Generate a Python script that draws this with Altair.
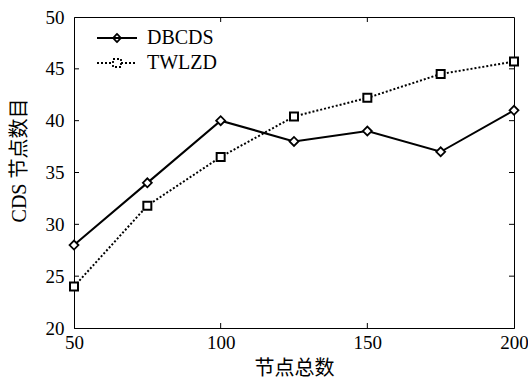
import altair as alt
import pandas as pd

nodes = [50, 75, 100, 125, 150, 175, 200]
dbcds = [28, 34, 40, 38, 39, 37, 41]
twlzd = [24, 31.8, 36.5, 40.4, 42.2, 44.5, 45.7]
series_names = ["DBCDS", "TWLZD"]
x_ticks = [50, 100, 150, 200]
y_ticks = [20, 25, 30, 35, 40, 45, 50]

df = pd.DataFrame({
    "n": nodes * 2,
    "v": dbcds + twlzd,
    "s": [series_names[0]] * len(nodes) + [series_names[1]] * len(nodes),
})

W, H = 440, 311
XD = [50, 200]
YD = [20, 50]
TICK_PX = 5
FONT = "Liberation Serif, Times New Roman, Noto Sans CJK SC, serif"

xs = alt.Scale(domain=XD, nice=False, zero=False)
ys = alt.Scale(domain=YD, nice=False, zero=False)

x_axis = alt.Axis(values=x_ticks, tickSize=0, grid=False, labelFontSize=19,
                  labelPadding=5, labelFont=FONT, labelColor="black",
                  title="节点总数", titleFont=FONT, titleFontSize=20,
                  titleFontWeight="normal", titleColor="black", titlePadding=6,
                  domainColor="black", labelFlush=False)
y_axis = alt.Axis(values=y_ticks, tickSize=0, grid=False, labelFontSize=19,
                  labelPadding=10, labelFont=FONT, labelColor="black",
                  title="CDS 节点数目", titleFont=FONT, titleFontSize=20,
                  titleFontWeight="normal", titleColor="black", titlePadding=16,
                  titleY=143, domainColor="black", labelFlush=False)

base = alt.Chart(df)
X = alt.X("n:Q", scale=xs, axis=x_axis)
Y = alt.Y("v:Q", scale=ys, axis=y_axis)

line_d = base.transform_filter(alt.datum.s == series_names[0]).mark_line(
    color="black", strokeWidth=2).encode(x=X, y=Y)
line_t = base.transform_filter(alt.datum.s == series_names[1]).mark_line(
    color="black", strokeWidth=2, strokeDash=[2, 2]).encode(x=X, y=Y)
pts_d = base.transform_filter(alt.datum.s == series_names[0]).mark_point(
    shape="diamond", size=80, filled=True, fill="white", stroke="black",
    strokeWidth=1.8, opacity=1).encode(x=X, y=Y)
pts_t = base.transform_filter(alt.datum.s == series_names[1]).mark_point(
    shape="square", size=64, filled=True, fill="white", stroke="black",
    strokeWidth=2, opacity=1).encode(x=X, y=Y)

legend_paths = [
    "M-2,0H2M0,-0.4L0.4,0L0,0.4L-0.4,0Z",
    "M-2,0H-0.4M0.4,0H2M-0.4,-0.4H0.4V0.4H-0.4Z",
]
leg = dict(title=None, orient="none", legendX=32, legendY=10,
           symbolSize=400, symbolOpacity=1,
           symbolStrokeColor="black", symbolStrokeWidth=1.8,
           labelFont=FONT, labelFontSize=20, labelColor="black",
           labelOffset=19, rowPadding=4, padding=0)
# legend-only layer: no marks drawn (empty after filter), legend comes from the explicit scale domain
legend_layer = base.transform_filter("false").mark_point(
    filled=False, stroke="black", strokeWidth=1.8, opacity=1).encode(
    x=X, y=Y,
    shape=alt.Shape("s:N", scale=alt.Scale(domain=series_names, range=legend_paths),
                    legend=alt.Legend(**leg)),
    strokeDash=alt.StrokeDash("s:N", scale=alt.Scale(domain=series_names, range=[[1, 0], [2, 2]]),
                              legend=alt.Legend(**leg)),
)

# inward tick marks
dx = TICK_PX * (XD[1] - XD[0]) / W
dy = TICK_PX * (YD[1] - YD[0]) / H
inner_x = [t for t in x_ticks if XD[0] < t < XD[1]]
inner_y = [t for t in y_ticks if YD[0] < t < YD[1]]
xt = pd.DataFrame({"t": inner_x * 2,
                   "a": [YD[0]] * len(inner_x) + [YD[1]] * len(inner_x),
                   "b": [YD[0] + dy] * len(inner_x) + [YD[1] - dy] * len(inner_x)})
yt = pd.DataFrame({"t": inner_y * 2,
                   "a": [XD[0]] * len(inner_y) + [XD[1]] * len(inner_y),
                   "b": [XD[0] + dx] * len(inner_y) + [XD[1] - dx] * len(inner_y)})
xtick_layer = alt.Chart(xt).mark_rule(color="black", strokeWidth=1).encode(
    x=alt.X("t:Q", scale=xs, axis=x_axis), y=alt.Y("a:Q", scale=ys, axis=y_axis), y2="b:Q")
ytick_layer = alt.Chart(yt).mark_rule(color="black", strokeWidth=1).encode(
    y=alt.Y("t:Q", scale=ys, axis=y_axis), x=alt.X("a:Q", scale=xs, axis=x_axis), x2="b:Q")

chart = alt.layer(xtick_layer, ytick_layer, line_t, line_d, pts_t, pts_d, legend_layer).properties(
    width=W, height=H,
    autosize=alt.AutoSizeParams(type="none"),
    padding={"left": 74, "top": 17, "right": 14, "bottom": 53},
    background="white",
).configure_view(stroke="black", strokeWidth=1).configure_axis(
    domainWidth=1)

chart.save("out.html", embed_options={"renderer": "svg", "actions": False})
